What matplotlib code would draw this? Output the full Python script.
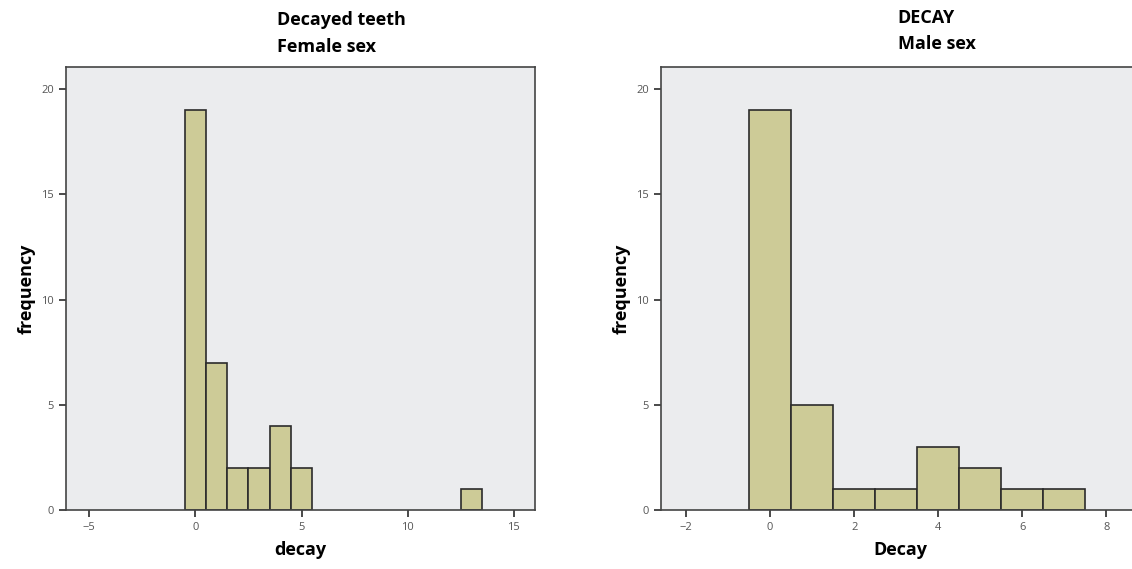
import matplotlib.pyplot as plt

# Dados (centro do bin -> frequência)
female_decay = [0, 1, 2, 3, 4, 5, 13]
female_freq = [19, 7, 2, 2, 4, 2, 1]

male_decay = [0, 1, 2, 3, 4, 5, 6, 7]
male_freq = [19, 5, 1, 1, 3, 2, 1, 1]

female_xticks = [-5, 0, 5, 10, 15]
male_xticks = [-2, 0, 2, 4, 6, 8]
yticks = [0, 5, 10, 15, 20]

BAR_COLOR = '#cdcb97'
BG_COLOR = '#ebecee'
EDGE = '#2b2b2b'
plt.rcParams['font.family'] = ['Open Sans', 'DejaVu Sans']


def draw_hist(ax, x, y, xticks, xlim, xlabel):
    ax.set_facecolor(BG_COLOR)
    ax.bar(x, y, width=1.0, color=BAR_COLOR, edgecolor=EDGE, linewidth=1.2)
    ax.set_xlim(*xlim)
    ax.set_ylim(0, 21.05)
    ax.set_xticks(xticks)
    ax.set_yticks(yticks)
    ax.tick_params(axis='both', direction='out', length=5, width=1.2,
                   colors=EDGE, labelcolor='#555555', labelsize=8)
    for sp in ax.spines.values():
        sp.set_color('#444444')
        sp.set_linewidth(1.2)
    ax.set_xlabel(xlabel, fontsize=13, fontweight='bold', labelpad=6)
    ax.set_ylabel('frequency', fontsize=13, fontweight='bold', labelpad=4)


fig = plt.figure(figsize=(11.32, 5.69), dpi=100)

ax1 = fig.add_axes([0.0583, 0.1037, 0.4143, 0.7785])
draw_hist(ax1, female_decay, female_freq, female_xticks, (-6.1, 16.0), 'decay')
fig.text(0.2447, 0.98, 'Decayed teeth\nFemale sex', fontsize=13, fontweight='bold',
         ha='left', va='top', linespacing=1.6)

ax2 = fig.add_axes([0.5839, 0.1037, 0.423, 0.7785])
draw_hist(ax2, male_decay, male_freq, male_xticks, (-2.6, 8.8), 'Decay')
fig.text(0.793, 0.985, 'DECAY\nMale sex', fontsize=13, fontweight='bold',
         ha='left', va='top', linespacing=1.6)

plt.savefig('out.png', dpi=100)
